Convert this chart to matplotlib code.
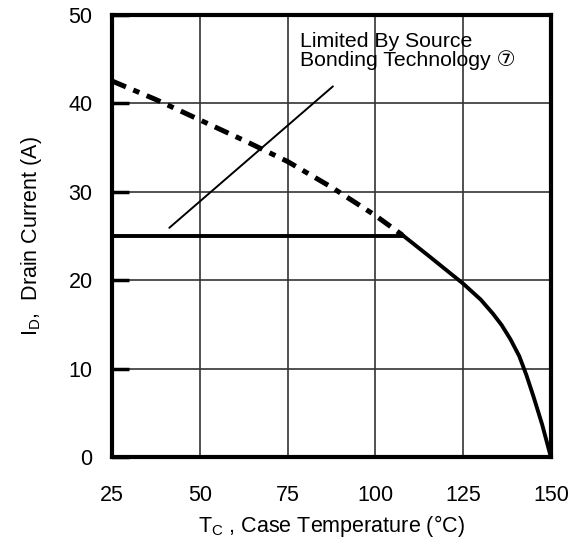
import matplotlib
matplotlib.use("Agg")
import matplotlib.pyplot as plt

plt.rcParams['font.family'] = ['Liberation Sans', 'DejaVu Sans']
plt.rcParams['mathtext.fontset'] = 'custom'
plt.rcParams['mathtext.rm'] = 'Liberation Sans'
plt.rcParams['mathtext.it'] = 'Liberation Sans'

# Data
dash_tc = [25, 37.5, 50, 62.5, 75, 87.5, 100, 108]
dash_id = [42.5, 40.4, 38.1, 35.8, 33.4, 30.5, 27.3, 25.0]
solid_tc = [108, 115, 125, 130, 133.5, 136, 138.5, 141, 143, 145, 147.5, 150]
solid_id = [25.0, 22.8, 19.6, 17.8, 16.2, 14.9, 13.3, 11.4, 9.3, 6.9, 3.7, 0.0]
limit_tc = [25, 107.8]
limit_id = [25, 25]
xticks = [25, 50, 75, 100, 125, 150]
yticks = [0, 10, 20, 30, 40, 50]

fig = plt.figure(figsize=(5.72, 5.44), dpi=100)
ax = fig.add_axes([0.196, 0.160, 0.767, 0.813])

ax.set_xlim(25, 150)
ax.set_ylim(0, 50)
ax.set_xticks(xticks)
ax.set_yticks(yticks)
ax.grid(True, color='#333333', linewidth=1.2)
ax.set_axisbelow(True)

for s in ax.spines.values():
    s.set_linewidth(3)
    s.set_color('black')

ax.tick_params(axis='x', labelsize=15.5, length=0, pad=20)
ax.tick_params(axis='y', labelsize=15.5, direction='in', length=12, width=2.5, pad=14)

ax.plot(dash_tc, dash_id, color='black', linewidth=3.6,
        linestyle=(0, (3, 1.6, 1.3, 1.6)), solid_capstyle='butt')
ax.plot(solid_tc, solid_id, color='black', linewidth=2.8, solid_joinstyle='round')
ax.plot(limit_tc, limit_id, color='black', linewidth=2.8)

ax.annotate('', xy=(40.7, 25.7), xytext=(88.5, 42.1),
            arrowprops=dict(arrowstyle='-', color='black', linewidth=1.4))
ax.text(78.5, 48.0, 'Limited By Source\nBonding Technology \u2466',
        fontsize=15.3, va='top', ha='left', linespacing=0.95)

ax.set_xlabel(r'T$_\mathregular{C}$ , Case Temperature (°C)', fontsize=15.5, labelpad=5)
ax.set_ylabel(r'I$_\mathregular{D}$,  Drain Current (A)', fontsize=15.5, labelpad=18)

fig.savefig('out.png', dpi=100)
